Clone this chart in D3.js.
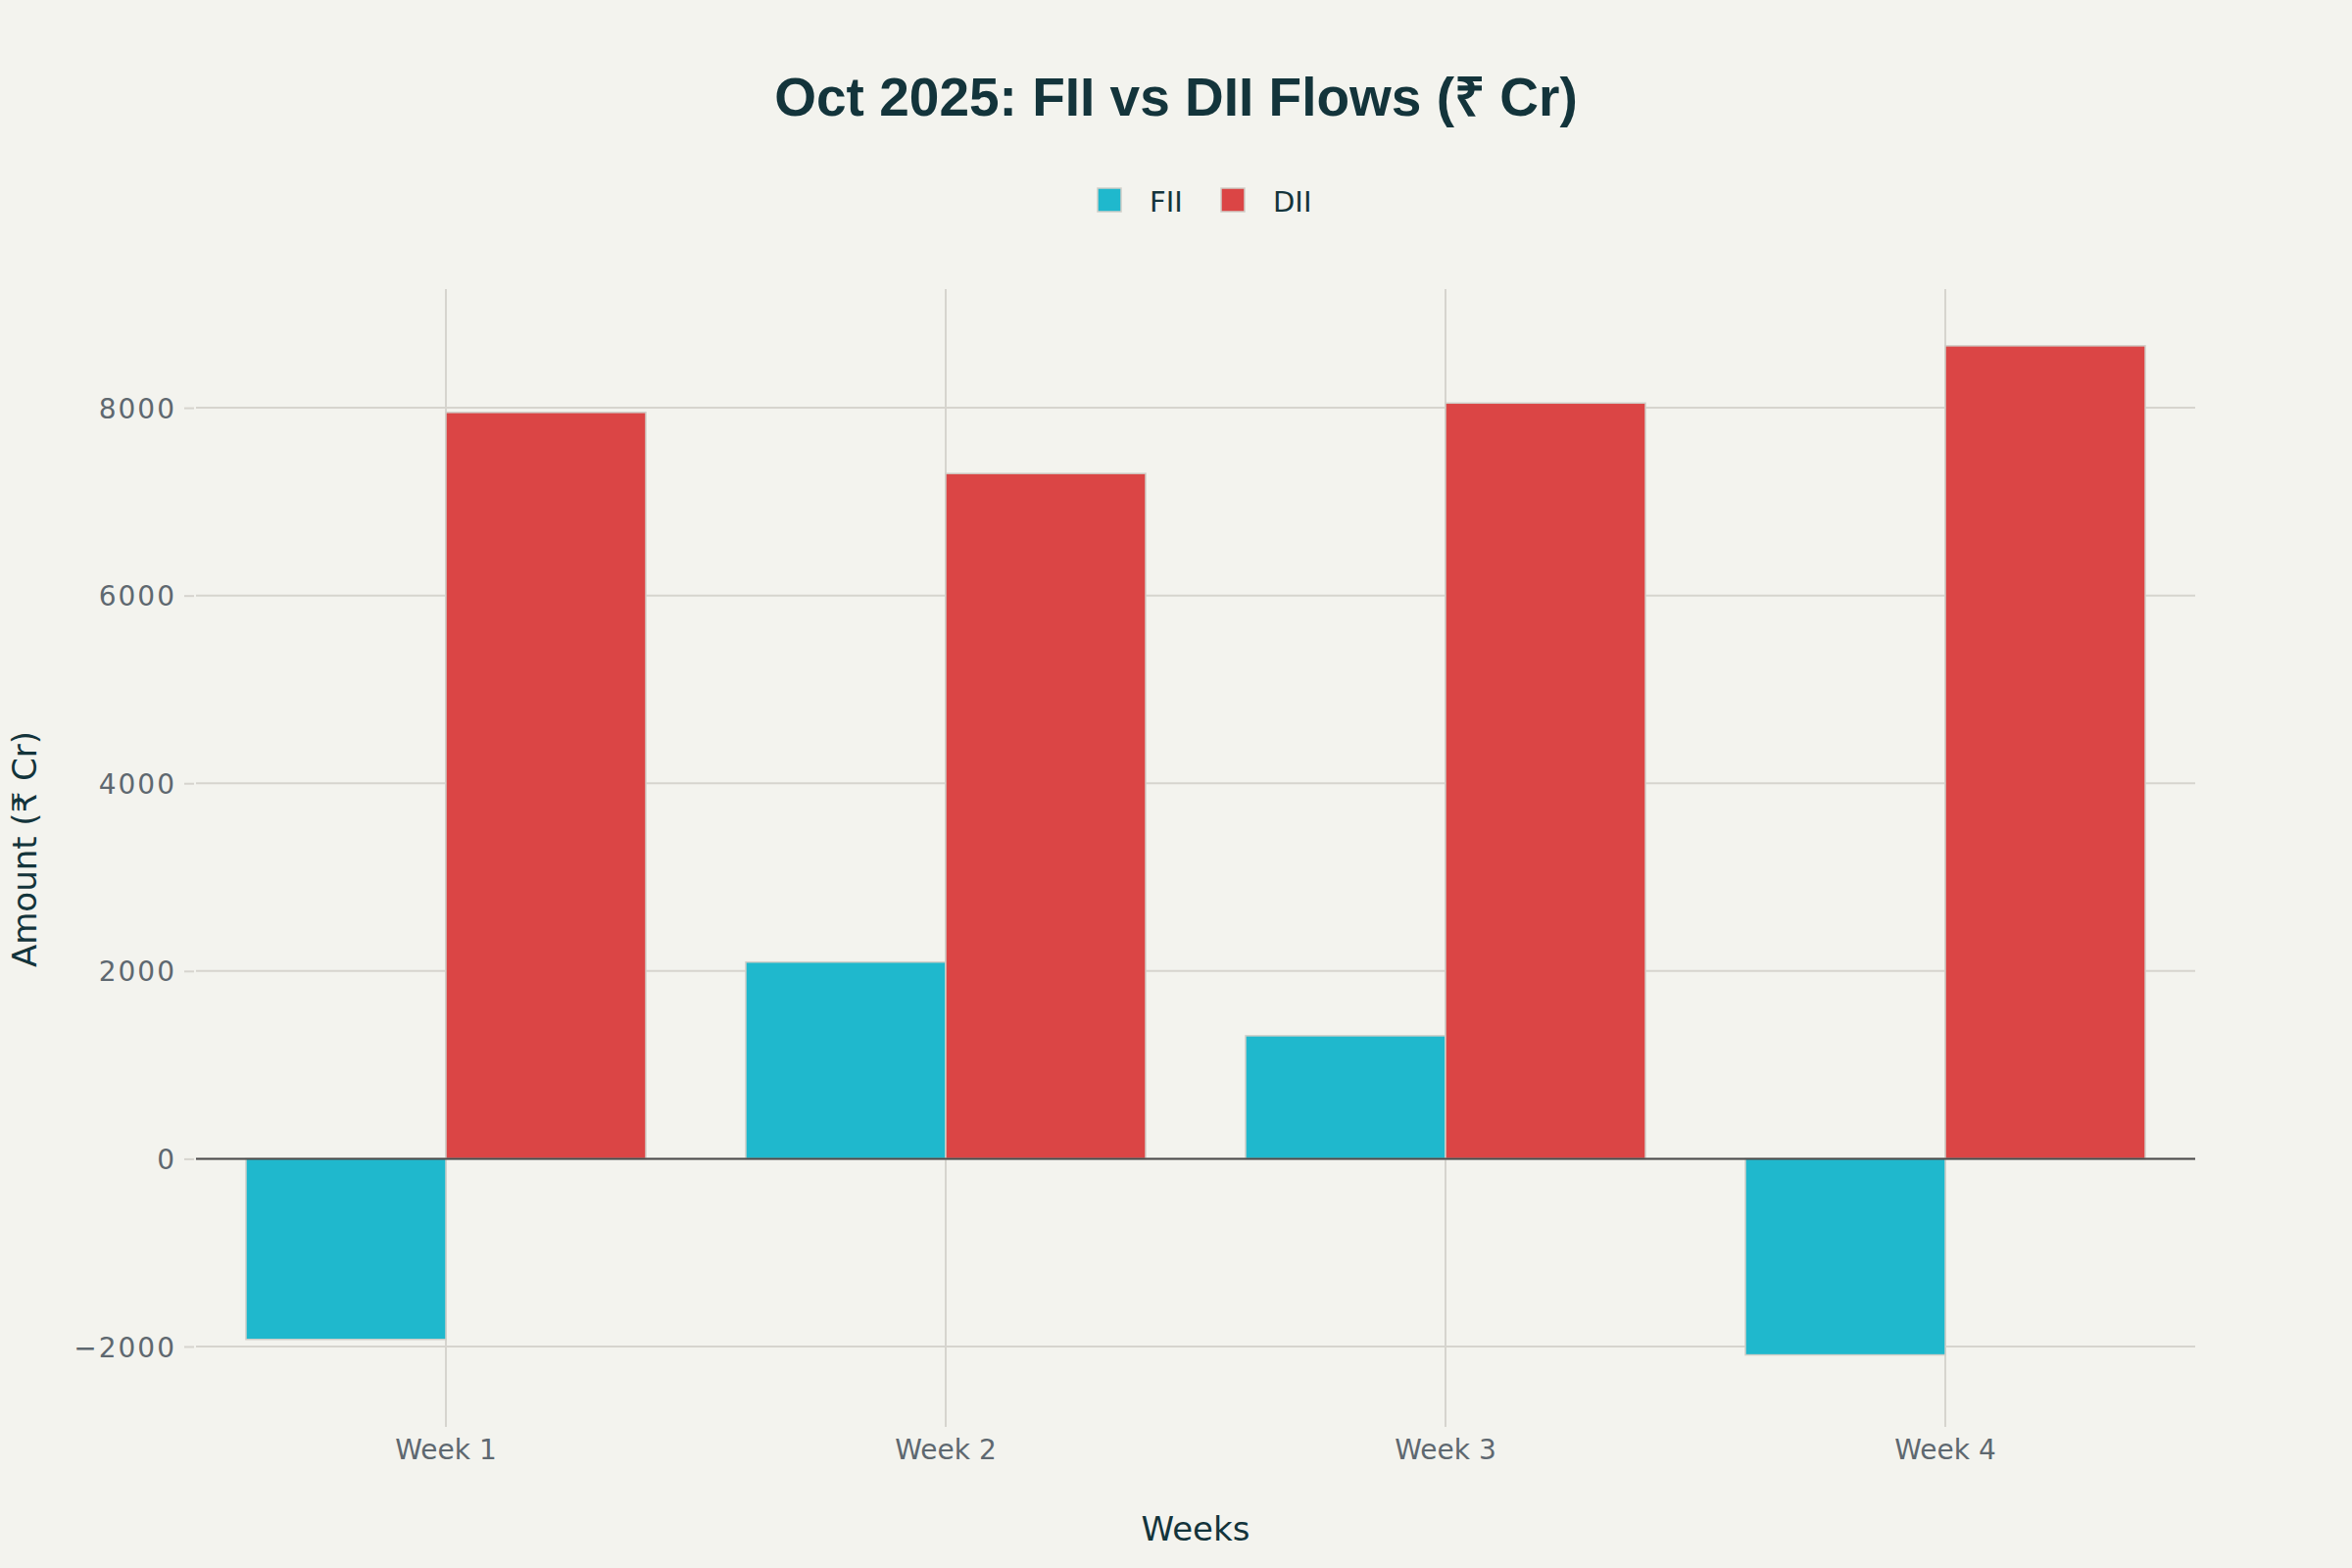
<!DOCTYPE html>
<html>
<head>
<meta charset="utf-8">
<script src="https://cdn.jsdelivr.net/npm/d3@7"></script>
<style>
  html, body { margin: 0; padding: 0; background: #F3F3EE; }
  svg { display: block; }
</style>
</head>
<body>
<svg id="chart" width="2400" height="1600"></svg>
<script>
// ---- data ----
const weeks = ["Week 1", "Week 2", "Week 3", "Week 4"];
const seriesNames = ["FII", "DII"];
const fiiValues = [-1925, 2095, 1310, -2090];
const diiValues = [7950, 7300, 8050, 8660];
const yTicks = [-2000, 0, 2000, 4000, 6000, 8000];
const titleText = "Oct 2025: FII vs DII Flows (₹ Cr)";
const xTitle = "Weeks";
const yTitle = "Amount (₹ Cr)";
const colors = { FII: "#1FB8CD", DII: "#DB4545" };

// ---- layout ----
const W = 2400, H = 1600;
const plot = { left: 200, right: 2240, top: 295, bottom: 1446 };
const svg = d3.select("#chart");
svg.append("rect").attr("width", W).attr("height", H).attr("fill", "#F3F3EE");

const x = d3.scaleBand().domain(weeks).range([plot.left, plot.right]).paddingInner(0).paddingOuter(0);
const xInner = d3.scaleBand().domain(seriesNames).range([0, x.bandwidth()]).paddingInner(0).paddingOuter(0.25);
const y = d3.scaleLinear().domain([-2752, 9264]).range([plot.bottom, plot.top]);

const tickFont = "'DejaVu Sans', sans-serif";
const gridColor = "#D6D4CE";

// horizontal grid
svg.append("g").selectAll("line").data(yTicks).join("line")
  .attr("x1", plot.left).attr("x2", plot.right)
  .attr("y1", d => y(d)).attr("y2", d => y(d))
  .attr("stroke", gridColor).attr("stroke-width", 2);

// vertical grid at category centers
svg.append("g").selectAll("line").data(weeks).join("line")
  .attr("x1", d => x(d) + x.bandwidth() / 2).attr("x2", d => x(d) + x.bandwidth() / 2)
  .attr("y1", plot.top).attr("y2", plot.bottom)
  .attr("stroke", gridColor).attr("stroke-width", 2);

// y axis (ticks + labels) via d3 axis
const yAxis = d3.axisLeft(y).tickValues(yTicks).tickSize(10).tickPadding(8)
  .tickFormat(d => d < 0 ? "\u2212" + Math.abs(d) : String(d));
const gy = svg.append("g").attr("transform", `translate(${plot.left - 2},0)`).call(yAxis);
gy.select(".domain").remove();
gy.selectAll(".tick line").attr("stroke", gridColor).attr("stroke-width", 2);
gy.selectAll(".tick text").attr("fill", "#5E6870").attr("font-family", tickFont)
  .attr("font-size", 28).attr("letter-spacing", 2).attr("dy", "0.36em");

// x axis
const xAxis = d3.axisBottom(x).tickSize(10).tickPadding(9);
const gx = svg.append("g").attr("transform", `translate(0,${plot.bottom})`).call(xAxis);
gx.select(".domain").remove();
gx.selectAll(".tick line").attr("stroke", gridColor).attr("stroke-width", 2);
gx.selectAll(".tick text").attr("fill", "#5E6870").attr("font-family", tickFont)
  .attr("font-size", 28).attr("dy", "0.85em");

// bars
const rows = weeks.map((w, i) => ({ week: w, FII: fiiValues[i], DII: diiValues[i] }));
const groups = svg.append("g").selectAll("g").data(rows).join("g")
  .attr("transform", d => `translate(${x(d.week)},0)`);
groups.selectAll("rect").data(d => seriesNames.map(s => ({ key: s, value: d[s] }))).join("rect")
  .attr("x", d => xInner(d.key))
  .attr("width", xInner.bandwidth())
  .attr("y", d => y(Math.max(0, d.value)))
  .attr("height", d => Math.abs(y(d.value) - y(0)))
  .attr("fill", d => colors[d.key])
  .attr("stroke", "#D0CEC8").attr("stroke-width", 1.5);

// zero line
svg.append("line")
  .attr("x1", plot.left).attr("x2", plot.right)
  .attr("y1", y(0)).attr("y2", y(0))
  .attr("stroke", "#4A4A4A").attr("stroke-width", 2);

// title
svg.append("text").attr("x", 1200).attr("y", 118).attr("text-anchor", "middle")
  .attr("font-family", "'Liberation Sans', Arial, sans-serif").attr("font-weight", "bold")
  .attr("font-size", 55).attr("fill", "#13343B").text(titleText);

// legend
const legendItems = [
  { name: "FII", sx: 1120, tx: 1173 },
  { name: "DII", sx: 1246, tx: 1299 }
];
const lg = svg.append("g");
lg.selectAll("rect").data(legendItems).join("rect")
  .attr("x", d => d.sx).attr("y", 192).attr("width", 24).attr("height", 24)
  .attr("fill", d => colors[d.name]).attr("stroke", "#D0CEC8").attr("stroke-width", 1.5);
lg.selectAll("text").data(legendItems).join("text")
  .attr("x", d => d.tx).attr("y", 216)
  .attr("font-family", tickFont).attr("font-size", 29).attr("fill", "#13343B")
  .text(d => d.name);

// axis titles
svg.append("text").attr("x", (plot.left + plot.right) / 2).attr("y", 1572)
  .attr("text-anchor", "middle").attr("font-family", tickFont).attr("font-size", 34)
  .attr("fill", "#13343B").text(xTitle);
svg.append("text").attr("transform", `translate(37,${(plot.top + plot.bottom) / 2 - 4}) rotate(-90)`)
  .attr("text-anchor", "middle").attr("font-family", tickFont).attr("font-size", 34)
  .attr("fill", "#13343B").text(yTitle);
</script>
</body>
</html>
